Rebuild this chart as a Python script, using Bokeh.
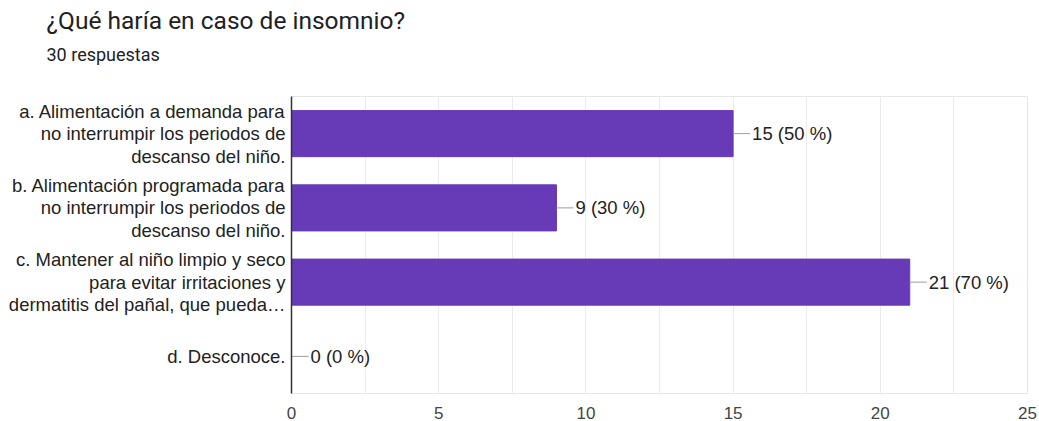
from bokeh.plotting import figure
from bokeh.models import FactorRange, Range1d, FixedTicker, Title, ColumnDataSource
from bokeh.core.properties import value
from bokeh.embed import file_html
from bokeh.resources import INLINE

categories = [
    "a. Alimentación a demanda para\nno interrumpir los periodos de\ndescanso del niño.",
    "b. Alimentación programada para\nno interrumpir los periodos de\ndescanso del niño.",
    "c. Mantener al niño limpio y seco\npara evitar irritaciones y\ndermatitis del pañal, que pueda…",
    "d. Desconoce.",
]
counts = [15, 9, 21, 0]
value_labels = ["15 (50 %)", "9 (30 %)", "21 (70 %)", "0 (0 %)"]
x_ticks = [0, 5, 10, 15, 20, 25]
grid_ticks = [0, 2.5, 5, 7.5, 10, 12.5, 15, 17.5, 20, 22.5, 25]
title_text = "¿Qué haría en caso de insomnio?"
subtitle_text = "30 respuestas"

FONT = "Liberation Sans"
BAR = "#673ab7"

W, H = 1039, 421
BL, BR, BT, BB = 291, 12, 96, 27

src = ColumnDataSource(dict(cat=categories, count=counts, lab=value_labels))

p = figure(
    width=W, height=H,
    y_range=FactorRange(factors=list(reversed(categories)), range_padding=0),
    x_range=Range1d(0, 25),
    output_backend="svg", toolbar_location=None,
    min_border_left=BL, min_border_right=BR, min_border_top=BT, min_border_bottom=BB,
)
p.title = None
p.background_fill_color = "white"
p.border_fill_color = "white"
p.outline_line_color = "#e6e6e6"
p.outline_line_width = 1

p.hbar(y="cat", right="count", left=0, height=0.62, source=src,
       fill_color=BAR, line_color=BAR)
p.ray(x="count", y="cat", length=17, length_units="screen", angle=0,
      source=src, line_color="#9e9e9e", line_width=1)
p.text(x="count", y="cat", text="lab", source=src, x_offset=19,
       text_baseline="middle", text_align="left",
       text_font=value(FONT), text_font_size="18.5px", text_color="#222222")

# grid
p.ygrid.visible = False
p.xgrid.ticker = FixedTicker(ticks=grid_ticks)
p.xgrid.grid_line_color = "#ebebeb"
p.xgrid.grid_line_width = 1

# x axis
xa = p.xaxis[0]
xa.ticker = FixedTicker(ticks=x_ticks)
xa.axis_line_color = None
xa.major_tick_line_color = None
xa.minor_tick_line_color = None
xa.major_label_standoff = 7
xa.major_label_text_font = FONT
xa.major_label_text_font_size = "17px"
xa.major_label_text_color = "#444444"

# y axis
ya = p.yaxis[0]
ya.axis_line_color = "#333333"
ya.axis_line_width = 1.5
ya.major_tick_line_color = None
ya.minor_tick_line_color = None
ya.major_label_standoff = 0
ya.major_label_text_font = FONT
ya.major_label_text_font_size = "18.5px"
ya.major_label_text_color = "#222222"
ya.major_label_text_line_height = 1.07

# header: spacer (next to frame), subtitle, then main title (outermost)
p.add_layout(Title(text=" ", standoff=16, text_font_size="10px"), "above")
p.add_layout(Title(text=subtitle_text, align="left", offset=46 - BL, standoff=6,
                   text_font="Roboto", text_font_size="18px", text_font_style="normal",
                   text_color="#202124"), "above")
p.add_layout(Title(text=title_text, align="left", offset=46 - BL, standoff=7,
                   text_font="Roboto", text_font_size="24.5px", text_font_style="normal",
                   text_color="#202124"), "above")

open("out.html", "w").write(file_html(p, INLINE))
